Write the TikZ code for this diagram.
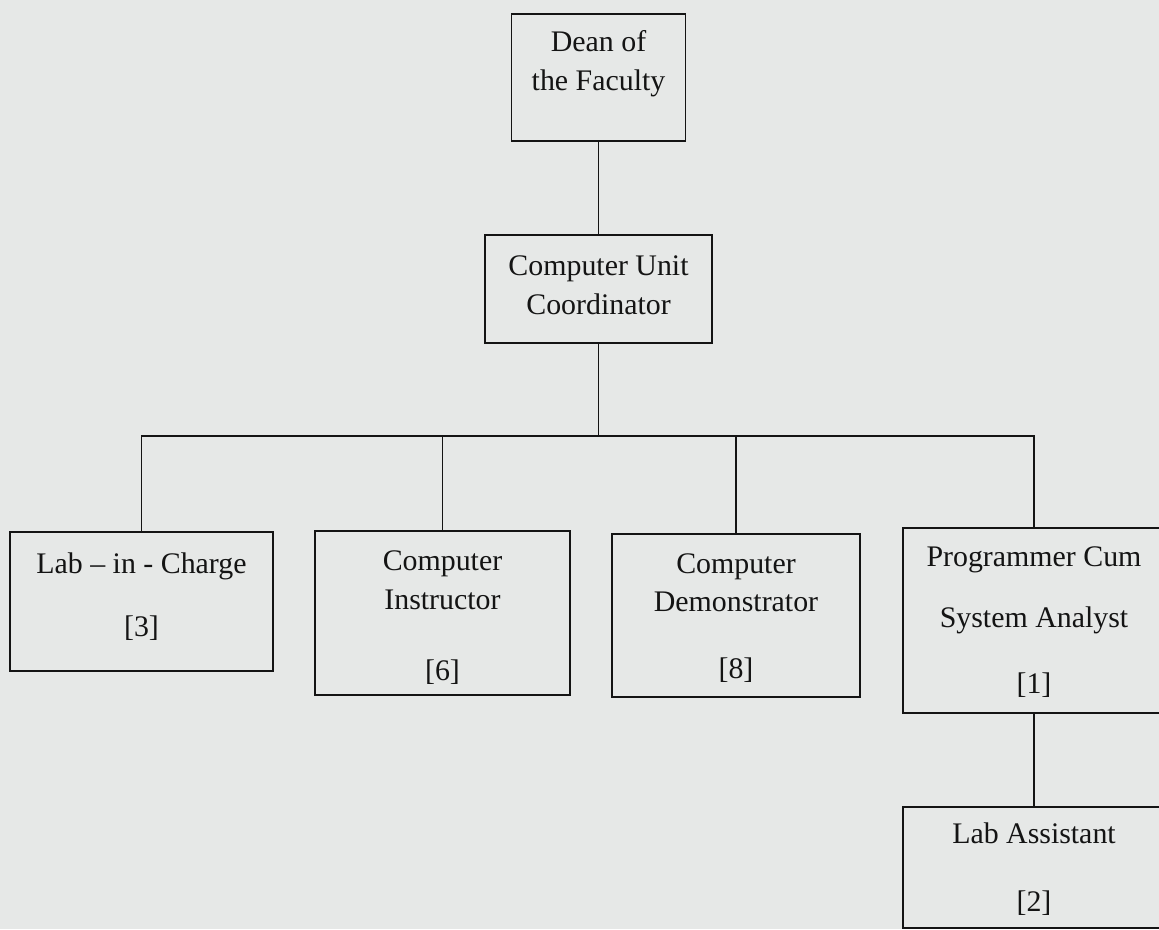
\documentclass[tikz,border=0pt]{standalone}
\usepackage{fontspec}
\setmainfont{Liberation Serif}
\usetikzlibrary{positioning}
\definecolor{PaperGrey}{RGB}{230,232,231}
\definecolor{InkBlack}{RGB}{20,20,20}

\begin{document}
\begin{tikzpicture}[orgbox/.style={rectangle, draw=InkBlack, line width=1.1pt},
  orgtext/.style={align=center, font=\fontsize{17}{22}\selectfont, text=InkBlack, inner sep=0pt},
  orgline/.style={draw=InkBlack, line width=1pt}]
\fill[PaperGrey] (0,0) rectangle (23.18,-18.58);
\useasboundingbox (0,0) rectangle (23.18,-18.58);
\clip (0,0) rectangle (23.18,-18.58);
% boxes
\node[orgbox, minimum width=3.48cm, minimum height=2.54cm] (dean) at (11.97,-1.55) {};
\node[orgbox, minimum width=4.54cm, minimum height=2.16cm] (coord) at (11.97,-5.78) {};
\node[orgbox, minimum width=5.26cm, minimum height=2.78cm] (lab) at (2.83,-12.03) {};
\node[orgbox, minimum width=5.10cm, minimum height=3.28cm] (instr) at (8.85,-12.26) {};
\node[orgbox, minimum width=4.96cm, minimum height=3.26cm] (demo) at (14.72,-12.31) {};
\node[orgbox, minimum width=5.24cm, minimum height=3.70cm] (prog) at (20.68,-12.41) {};
\node[orgbox, minimum width=5.24cm, minimum height=2.42cm] (asst) at (20.68,-17.35) {};
% texts
\node[orgtext] (deanT) at (11.97,-1.27) {Dean of\\the Faculty};
\node[orgtext] (coordT) at (11.97,-5.70) {Computer Unit\\Coordinator};
\node[orgtext] (labT) at (2.83,-11.93) {Lab – in - Charge\\[13.9pt][3]};
\node[orgtext] (instrT) at (8.85,-12.35) {Computer\\Instructor\\[18.4pt][6]};
\node[orgtext] (demoT) at (14.72,-12.36) {Computer\\Demonstrator\\[16.1pt][8]};
\node[orgtext] (progT) at (20.68,-12.44) {Programmer Cum\\[13.2pt]System Analyst\\[15.5pt][1]};
\node[orgtext] (asstT) at (20.68,-17.38) {Lab Assistant\\[16.7pt][2]};
% connectors
\coordinate (bus) at (11.97,-8.72);
\draw[orgline] (dean) -- (coord);
\draw[orgline] (coord) -- (bus);
\foreach \n in {lab,instr,demo,prog}
  \draw[orgline] (\n) |- (bus);
\draw[orgline] (prog) -- (asst);
\end{tikzpicture}
\end{document}
